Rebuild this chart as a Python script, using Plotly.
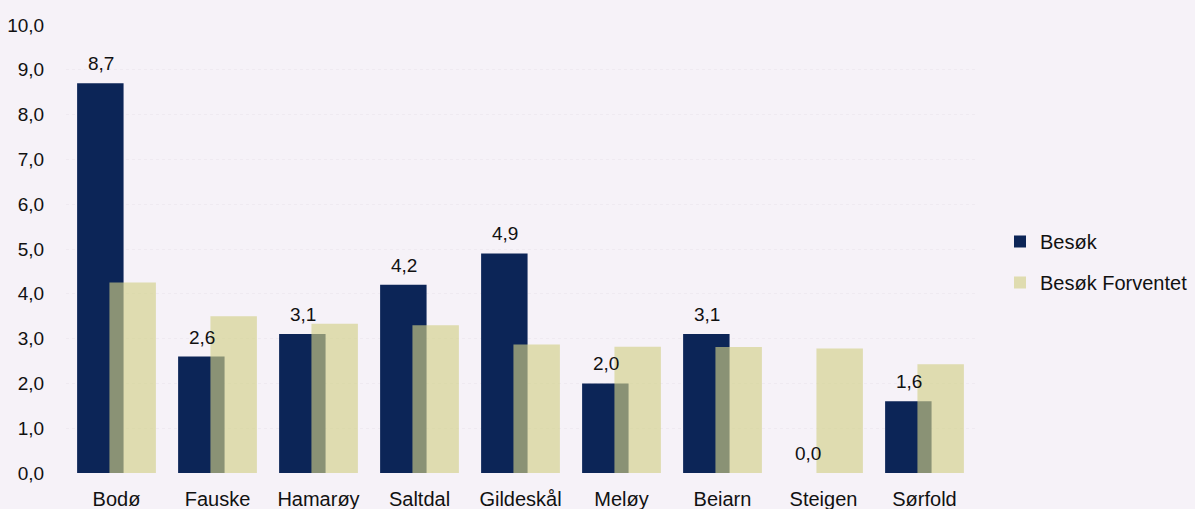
import plotly.graph_objects as go

# --- data ---
kommuner = ['Bodø', 'Fauske', 'Hamarøy', 'Saltdal', 'Gildeskål', 'Meløy', 'Beiarn', 'Steigen', 'Sørfold']
besok = [8.7, 2.6, 3.1, 4.2, 4.9, 2.0, 3.1, 0.0, 1.6]
besok_forventet = [4.25, 3.5, 3.33, 3.3, 2.87, 2.82, 2.81, 2.78, 2.43]

# --- style ---
BG = '#f6f2f8'
BLUE = '#0c2557'
BEIGE = 'rgba(210, 208, 134, 0.64)'
FONT = 'Liberation Sans, Arial, sans-serif'
BAR_W = 0.46

fig = go.Figure()

fig.add_trace(go.Bar(x=kommuner, y=besok, name='Besøk', legendgroup='a',
                     marker=dict(color=BLUE, line=dict(width=0)),
                     offset=-0.39, width=BAR_W))
fig.add_trace(go.Bar(x=kommuner, y=besok_forventet, name='Besøk Forventet', legendgroup='b',
                     marker=dict(color=BEIGE, line=dict(width=0)),
                     offset=-0.07, width=BAR_W))

# value labels above the dark bars
for k, v in zip(kommuner, besok):
    fig.add_annotation(x=k, y=v, text=f"{v:.1f}".replace('.', ','),
                       showarrow=False, xanchor='center', yanchor='bottom',
                       xshift=-16, yshift=7,
                       font=dict(family=FONT, size=19, color='#111'))

fig.update_layout(
    width=1195, height=509,
    barmode='overlay',
    separators=', ',
    paper_bgcolor=BG, plot_bgcolor=BG,
    margin=dict(l=66, r=220, t=25, b=36, autoexpand=False),
    font=dict(family=FONT, size=19, color='#111'),
    xaxis=dict(showline=False, showgrid=False, ticks='outside', ticklen=8,
               tickcolor=BG, tickfont=dict(size=20), automargin=False),
    yaxis=dict(range=[0, 10], dtick=1, tickformat='.1f', showline=False,
               showgrid=True, gridcolor='#efeaf1', griddash='dot', zeroline=False,
               ticks='outside', ticklen=17, tickcolor=BG, tickfont=dict(size=19),
               automargin=False),
    legend=dict(x=1.0275, xanchor='left', y=0.471, yanchor='middle',
                bgcolor='rgba(0,0,0,0)', itemwidth=30,
                traceorder='grouped', tracegroupgap=12,
                font=dict(family=FONT, size=20)),
    showlegend=True,
)

# page has a default body margin; drop it so the figure fills the window
fig.write_html("out.html", config={'displayModeBar': False},
               post_script="document.body.style.margin='0';document.body.style.overflow='hidden';")
